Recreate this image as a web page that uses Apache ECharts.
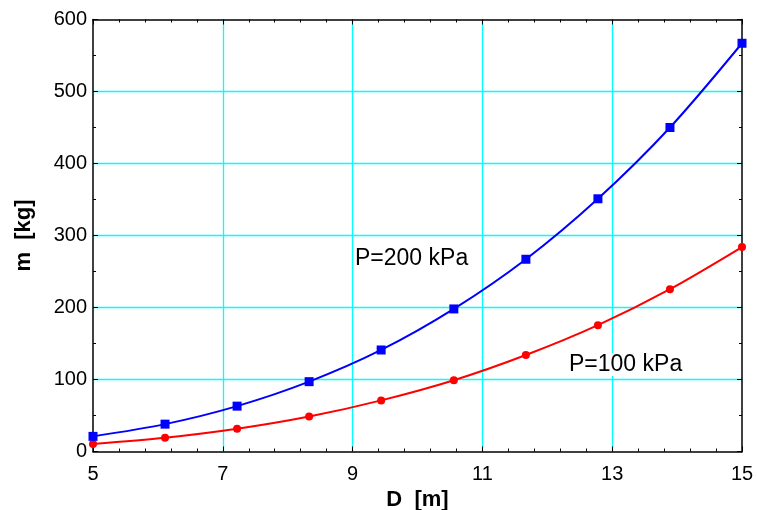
<!DOCTYPE html>
<html>
<head>
<meta charset="utf-8">
<script src="https://cdn.jsdelivr.net/npm/echarts@6/dist/echarts.min.js"></script>
<style>
  html, body { margin: 0; padding: 0; background: #fff; }
  #chart { width: 757px; height: 510px; }
</style>
</head>
<body>
<div id="chart"></div>
<script>
// diameter D [m] at the marker positions
let diameters = [5, 6.11, 7.22, 8.33, 9.44, 10.56, 11.67, 12.78, 13.89, 15];
// mass m [kg]
let mass200 = [21, 38, 63, 97, 141, 198, 267, 351, 450, 567];
let mass100 = [10.5, 19, 31.5, 48.5, 71, 99, 134, 175.5, 225.5, 284];
let xTicks = [5, 7, 9, 11, 13, 15];
let yTicks = [0, 100, 200, 300, 400, 500, 600];

let font = 'Liberation Sans, Arial, sans-serif';

let pairs = (xs, ys) => xs.map((x, i) => [x, ys[i]]);

let baseX = {
    type: 'value',
    min: xTicks[0],
    max: xTicks[xTicks.length - 1],
    interval: 2,
    axisLine: { show: true, onZero: false, lineStyle: { color: '#000', width: 1.5 } },
    axisTick: { show: true, inside: true, length: 5, lineStyle: { color: '#000' } },
    minorTick: { show: true, splitNumber: 5, length: 3, lineStyle: { color: '#000' } },
    splitLine: { show: false },
    minorSplitLine: { show: false }
};

let baseY = {
    type: 'value',
    min: yTicks[0],
    max: yTicks[yTicks.length - 1],
    interval: 100,
    axisLine: { show: true, onZero: false, lineStyle: { color: '#000', width: 1.5 } },
    axisTick: { show: true, inside: true, length: 5, lineStyle: { color: '#000' } },
    minorTick: { show: true, splitNumber: 2, length: 3, lineStyle: { color: '#000' } },
    splitLine: { show: false },
    minorSplitLine: { show: false }
};

let gridLine = () => ({
    show: true,
    showMinLine: false,
    showMaxLine: false,
    lineStyle: { color: '#00ffff', width: 1.3 }
});

let option = {
    backgroundColor: '#fff',
    animation: false,
    grid: { left: 93, right: 15, top: 19.5, bottom: 58.5, containLabel: false, outerBoundsMode: 'none' },
    xAxis: [
        Object.assign({}, baseX, {
            position: 'bottom',
            z: 1,
            name: 'D  [m]',
            nameLocation: 'middle',
            nameGap: 33,
            nameTextStyle: { fontFamily: font, fontSize: 22, fontWeight: 'bold', color: '#000' },
            axisLabel: { fontFamily: font, fontSize: 20, color: '#000', margin: 13 },
            splitLine: gridLine()
        }),
        Object.assign({}, baseX, { position: 'top', z: 3, axisLabel: { show: false } })
    ],
    yAxis: [
        Object.assign({}, baseY, {
            position: 'left',
            z: 1,
            name: 'm  [kg]',
            nameLocation: 'middle',
            nameGap: 58,
            nameTextStyle: { fontFamily: font, fontSize: 22, fontWeight: 'bold', color: '#000' },
            axisLabel: { fontFamily: font, fontSize: 20, color: '#000', margin: 6 },
            splitLine: gridLine()
        }),
        Object.assign({}, baseY, { position: 'right', z: 3, axisLabel: { show: false } })
    ],
    series: [
        {
            name: 'P=200 kPa',
            type: 'line',
            data: pairs(diameters, mass200),
            smooth: 0.3,
            symbol: 'rect',
            symbolSize: 9,
            itemStyle: { color: '#0000ff' },
            lineStyle: { color: '#0000ff', width: 2 },
            z: 5
        },
        {
            name: 'P=100 kPa',
            type: 'line',
            data: pairs(diameters, mass100),
            smooth: 0.3,
            symbol: 'circle',
            symbolSize: 8,
            itemStyle: { color: '#ff0000' },
            lineStyle: { color: '#ff0000', width: 2 },
            z: 4
        }
    ],
    graphic: [
        {
            type: 'text',
            left: 355,
            top: 247,
            z: 10,
            style: { text: 'P=200 kPa', font: '23px ' + font, fill: '#000', backgroundColor: '#fff' }
        },
        {
            type: 'text',
            left: 569,
            top: 353,
            z: 10,
            style: { text: 'P=100 kPa', font: '23px ' + font, fill: '#000', backgroundColor: '#fff' }
        }
    ]
};

let chart = echarts.init(document.getElementById('chart'));
chart.setOption(option);
</script>
</body>
</html>
